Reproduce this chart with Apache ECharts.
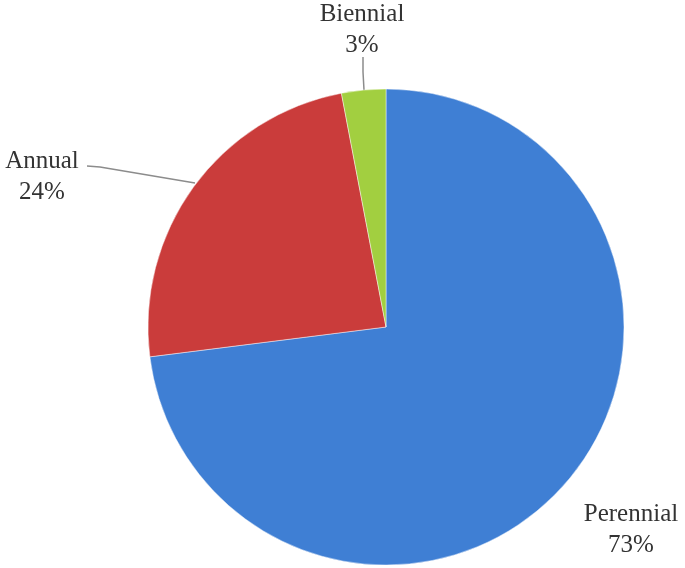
<!DOCTYPE html>
<html>
<head>
<meta charset="utf-8">
<script src="https://cdn.jsdelivr.net/npm/echarts@6/dist/echarts.min.js"></script>
<style>
  html, body { margin: 0; padding: 0; background: #fff; }
  #chart { width: 685px; height: 568px; }
</style>
</head>
<body>
<div id="chart"></div>
<script>
  // slice data, clockwise from 12 o'clock
  var categories = ['Perennial', 'Annual', 'Biennial'];
  var values = [73, 24, 3];
  var colors = ['#3f7fd4', '#ca3c3b', '#a2cf40'];

  var myChart = echarts.init(document.getElementById('chart'));

  var data = categories.map(function (name, i) {
    return {
      name: name,
      value: values[i],
      itemStyle: { color: colors[i] },
      labelLine: { show: i !== 0 }
    };
  });

  myChart.setOption({
    animation: false,
    series: [
      {
        type: 'pie',
        center: [386, 327],
        radius: 238,
        startAngle: 90,
        clockwise: true,
        data: data,
        itemStyle: {
          borderColor: 'rgba(255,255,255,0.45)',
          borderWidth: 1
        },
        label: {
          formatter: '{b}\n{d}%',
          fontFamily: 'Liberation Serif',
          fontSize: 25,
          lineHeight: 31,
          color: '#333',
          align: 'center',
          overflow: 'none'
        },
        labelLine: {
          lineStyle: { color: '#8c8c8c', width: 1.5 }
        },
        labelLayout: function (params) {
          if (params.dataIndex === 0) {
            return { x: 631, y: 530, align: 'center', verticalAlign: 'middle' };
          }
          if (params.dataIndex === 1) {
            return {
              x: 42, y: 177, align: 'center', verticalAlign: 'middle',
              labelLinePoints: [[195, 183], [100, 167], [87, 166]]
            };
          }
          return {
            x: 362, y: 30, align: 'center', verticalAlign: 'middle',
            labelLinePoints: [[364, 90], [363, 72], [363, 57]]
          };
        }
      }
    ]
  });
</script>
</body>
</html>
